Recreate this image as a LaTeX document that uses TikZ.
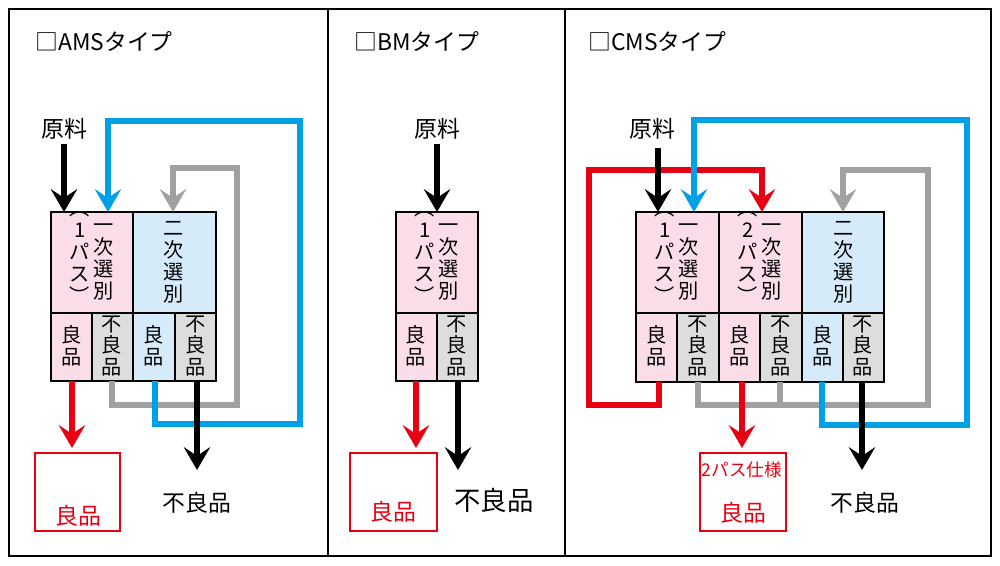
\documentclass[tikz,border=0pt]{standalone}
\usepackage{fontspec}
\setmainfont{Noto Sans CJK JP}
\usetikzlibrary{arrows.meta}
\definecolor{pinkc}{RGB}{250,221,233}
\definecolor{bluec}{RGB}{213,235,249}
\definecolor{grayc}{RGB}{221,221,221}
\definecolor{cyanl}{RGB}{0,160,230}
\definecolor{redl}{RGB}{230,0,18}
\definecolor{grayl}{RGB}{160,160,160}
\begin{document}
\begin{tikzpicture}[
	x=0.02cm, y=-0.02cm,
	flow/.style={line width=3.4pt},
	tip/.style={-{Stealth[length=13pt,width=15pt,inset=5pt]}},
	cell/.style={font=\fontsize{11.5}{12.5}\selectfont, align=center, inner sep=0pt},
	lbl/.style={font=\fontsize{13}{15}\selectfont, inner sep=0pt},
	title/.style={font=\fontsize{13}{15}\selectfont, anchor=west, inner sep=0pt},
	frame/.style={line width=1.6pt}
	]
	\useasboundingbox (0,0) rectangle (1000,565);
	\draw[line width=0.8pt] (9,9) rectangle (991,556);
	\draw[line width=0.8pt] (328,9) -- (328,556);
	\draw[line width=0.8pt] (565,9) -- (565,556);

	% AMS
	\node[title] (tA) at (35,42) {□AMSタイプ};
	\fill[pinkc] (51,212) rectangle (133,313);
	\fill[bluec] (133,212) rectangle (216,313);
	\fill[pinkc] (51,313) rectangle (92,381);
	\fill[grayc] (92,313) rectangle (133,381);
	\fill[bluec] (133,313) rectangle (175,381);
	\fill[grayc] (175,313) rectangle (216,381);
	\draw[frame] (51,212) rectangle (216,381) (51,313) -- (216,313) (133,212) -- (133,381) (92,313) -- (92,381) (175,313) -- (175,381);
	\node[cell] (a1) at (104,262) {一\\次\\選\\別};
	\node[cell] (a1p) at (80,258) {︵\\1\\パ\\ス\\︶};
	\node[cell] (a2) at (174,262) {二\\次\\選\\別};
	\node[cell] (a3) at (72,346) {良\\品};
	\node[cell] (a4) at (112,346) {不\\良\\品};
	\node[cell] (a5) at (154,346) {良\\品};
	\node[cell] (a6) at (196,346) {不\\良\\品};
	\node[lbl] (aIn) at (64,129) {原料};
	\draw[flow,grayl,tip] (112,381) -- (112,405) -- (237,405) -- (237,168) -- (173,168) -- (173,212);
	\draw[flow,cyanl,tip] (155,381) -- (155,424) -- (300,424) -- (300,121) -- (108,121) -- (108,212);
	\draw[flow,tip] (aIn.south) ++(0,4) -- (64,212);
	\draw[flow,redl,tip] (72,381) -- (72,448);
	\draw[flow,tip] (197,381) -- (197,470);
	\draw[redl,line width=1pt] (35,453) rectangle (120,531);
	\node[lbl,redl] (aOk) at (78,516) {良品};
	\node[lbl] (aNg) at (197,503) {不良品};

	% BM
	\node[title] (tB) at (354,42) {□BMタイプ};
	\fill[pinkc] (396,212) rectangle (478,313);
	\fill[pinkc] (396,313) rectangle (437,381);
	\fill[grayc] (437,313) rectangle (478,381);
	\draw[frame] (396,212) rectangle (478,381) (396,313) -- (478,313) (437,313) -- (437,381);
	\node[cell] (b1) at (449,262) {一\\次\\選\\別};
	\node[cell] (b1p) at (425,258) {︵\\1\\パ\\ス\\︶};
	\node[cell] (b3) at (416,346) {良\\品};
	\node[cell] (b4) at (457,346) {不\\良\\品};
	\node[lbl] (bIn) at (437,129) {原料};
	\draw[flow,tip] (bIn.south) ++(0,4) -- (437,212);
	\draw[flow,redl,tip] (416,381) -- (416,448);
	\draw[flow,tip] (458,381) -- (458,470);
	\draw[redl,line width=1pt] (350,453) rectangle (437,531);
	\node[lbl,redl] (bOk) at (393,512) {良品};
	\node[lbl,font=\fontsize{15}{17}\selectfont] (bNg) at (494,500) {不良品};

	% CMS
	\node[title] (tC) at (588,42) {□CMSタイプ};
	\fill[pinkc] (636,212) rectangle (802,313);
	\fill[bluec] (802,212) rectangle (884,313);
	\fill[pinkc] (636,313) rectangle (677,382);
	\fill[grayc] (677,313) rectangle (719,382);
	\fill[pinkc] (719,313) rectangle (760,382);
	\fill[grayc] (760,313) rectangle (802,382);
	\fill[bluec] (802,313) rectangle (843,382);
	\fill[grayc] (843,313) rectangle (884,382);
	\draw[frame] (636,212) rectangle (884,382) (636,313) -- (884,313);
	\foreach \xx in {719,802} \draw[frame] (\xx,212) -- (\xx,382);
	\foreach \xx in {677,760,843} \draw[frame] (\xx,313) -- (\xx,382);
	\node[cell] (c1) at (689,262) {一\\次\\選\\別};
	\node[cell] (c1p) at (665,258) {︵\\1\\パ\\ス\\︶};
	\node[cell] (c2) at (772,262) {一\\次\\選\\別};
	\node[cell] (c2p) at (748,258) {︵\\2\\パ\\ス\\︶};
	\node[cell] (c3) at (844,262) {二\\次\\選\\別};
	\node[cell] (c4) at (657,346) {良\\品};
	\node[cell] (c5) at (698,346) {不\\良\\品};
	\node[cell] (c6) at (740,346) {良\\品};
	\node[cell] (c7) at (781,346) {不\\良\\品};
	\node[cell] (c8) at (823,346) {良\\品};
	\node[cell] (c9) at (863,346) {不\\良\\品};
	\node[lbl] (cIn) at (652,129) {原料};
	\draw[flow,redl,tip] (659,382) -- (659,405) -- (589,405) -- (589,170) -- (762,170) -- (762,212);
	\draw[flow,grayl,tip] (698,382) -- (698,405) -- (928,405) -- (928,170) -- (843,170) -- (843,212);
	\draw[flow,grayl] (780,382) -- (780,405);
	\draw[flow,cyanl,tip] (822,382) -- (822,425) -- (967,425) -- (967,120) -- (694,120) -- (694,212);
	\draw[flow,tip] (658,148) -- (658,212);
	\draw[flow,redl,tip] (742,382) -- (742,448);
	\draw[flow,tip] (862,382) -- (862,470);
	\draw[redl,line width=1pt] (700,453) rectangle (786,531);
	\node[redl,inner sep=0pt,font=\fontsize{10}{12}\selectfont] (cSpec) at (742,470) {2パス仕様};
	\node[lbl,redl] (cOk) at (743,513) {良品};
	\node[lbl] (cNg) at (865,503) {不良品};
\end{tikzpicture}
\end{document}
